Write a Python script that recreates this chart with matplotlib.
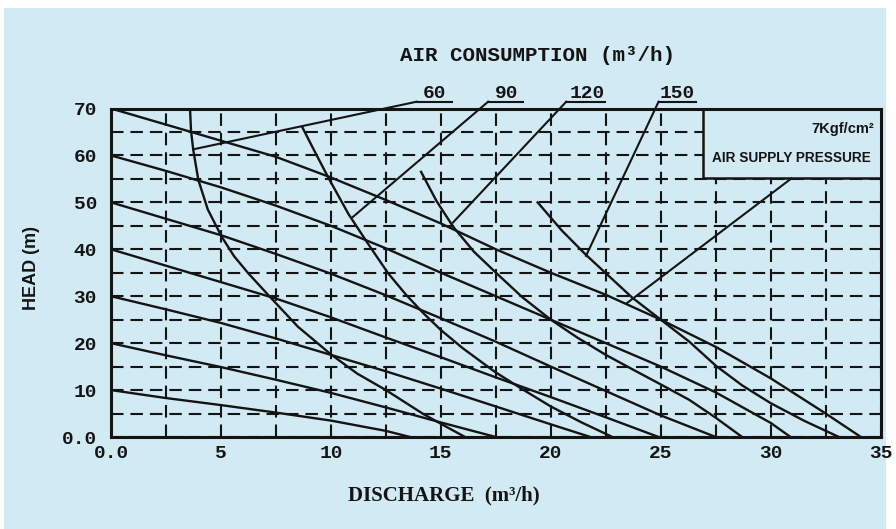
import matplotlib
matplotlib.use("Agg")
import matplotlib.pyplot as plt
from matplotlib.patches import Rectangle

# ---------------- data ----------------
x_ticks = [0, 5, 10, 15, 20, 25, 30, 35]
x_tick_labels = ["0.0", "5", "10", "15", "20", "25", "30", "35"]
y_ticks = [0, 10, 20, 30, 40, 50, 60, 70]
y_tick_labels = ["0.0", "10", "20", "30", "40", "50", "60", "70"]

# head curves (air supply pressure lines), labelled by shut-off head
head10_x = [0, 2.5, 5, 7.5, 10, 12.5, 13.6]
head10_y = [10, 8.3, 6.8, 5.2, 3.5, 1.3, 0]
head20_x = [0, 2.5, 5, 7.5, 10, 12.5, 15, 17.5]
head20_y = [20, 17.4, 14.9, 12.2, 9.4, 6.3, 3.1, 0]
head30_x = [0, 2.5, 5, 7.5, 10, 12.5, 15, 17.5, 20, 21.8]
head30_y = [30, 27.2, 24.3, 21.0, 17.5, 14.0, 10.3, 6.5, 2.7, 0]
head40_x = [0, 2.5, 5, 7.5, 10, 12.5, 15, 17.5, 20, 22.5, 24.9]
head40_y = [40, 36.5, 33.0, 29.5, 25.5, 21.2, 17.0, 12.7, 8.5, 4.2, 0]
head50_x = [0, 2.5, 5, 7.5, 10, 12.5, 15, 17.5, 20, 22.5, 25, 27.5]
head50_y = [50, 46.5, 43.0, 39.0, 34.8, 30.2, 25.3, 20.3, 15.0, 9.8, 4.6, 0]
head60_x = [0, 2.5, 5, 7.5, 10, 12.5, 15, 17.5, 20, 22.5, 25, 27.5, 30, 30.9]
head60_y = [60, 56.7, 53.2, 49.3, 45.0, 40.2, 35.0, 30.0, 25.0, 20.0, 15.0, 9.5, 3.0, 0]
head70_x = [0, 3.5, 7.5, 10, 12.5, 15, 17.5, 20, 22.5, 25, 27.5, 30, 32.5, 34.1]
head70_y = [70, 65.2, 59.7, 55.3, 50.5, 45.5, 40.0, 35.0, 30.3, 25.0, 19.2, 12.5, 5.0, 0]

# air consumption curves (m3/h)
air60_x = [3.6, 3.64, 3.74, 3.97, 4.4, 5.03, 5.6, 6.24, 7.2, 8.5, 10, 11.2, 12.5, 14.2, 15.2, 16.1]
air60_y = [69.3, 65.2, 61.2, 54.8, 48.5, 42.7, 38.5, 34.9, 30.0, 23.5, 17.6, 13.5, 10.0, 4.9, 2.3, 0]
air90_x = [8.7, 9.3, 9.88, 10.8, 11.77, 12.6, 13.4, 14.2, 15.0, 16.0, 17.45, 18.7, 20.0, 21.4, 22.8]
air90_y = [66.0, 60.5, 55.3, 47.5, 40.6, 34.9, 30.4, 26.4, 22.8, 18.9, 13.9, 10.2, 6.5, 3.1, 0]
air120_x = [14.1, 14.8, 15.56, 16.5, 17.53, 18.7, 20.0, 21.2, 22.5, 23.8, 25.0, 26.3, 27.5, 28.7]
air120_y = [56.5, 50.3, 44.8, 39.5, 34.9, 29.8, 25.0, 21.2, 17.5, 14.2, 11.2, 7.9, 4.1, 0]
air150_x = [19.4, 20.5, 21.6, 22.5, 23.7, 25.0, 26.3, 27.5, 28.7, 30.0, 31.5, 33.1]
air150_y = [50.0, 44.0, 38.8, 34.9, 29.7, 25.0, 20.3, 15.2, 11.0, 7.2, 3.5, 0]

air_labels = ["60", "90", "120", "150"]
label_x = [14.73, 17.99, 21.66, 25.75]
underline_x0 = [13.9, 17.15, 20.7, 24.9]
underline_x1 = [15.5, 18.75, 22.45, 26.6]
leader_end_x = [3.74, 11.0, 15.55, 21.6]
leader_end_y = [61.3, 46.9, 45.7, 38.6]

# ---------------- style ----------------
bg = "#d1eaf3"
ink = "#141414"
mono = ["Liberation Mono", "DejaVu Sans Mono"]
serif = ["Liberation Serif", "DejaVu Serif"]
narrow = ["Liberation Sans", "DejaVu Sans"]
plt.rcParams["lines.scale_dashes"] = False

fig = plt.figure(figsize=(8.96, 5.29), dpi=100)
fig.patch.set_facecolor("white")
fig.add_artist(Rectangle((4 / 896, 0), 882 / 896, 521 / 529,
                         transform=fig.transFigure, facecolor=bg,
                         edgecolor="none", zorder=-10))

ax = fig.add_axes([111 / 896, 92 / 529, 769.7 / 896, 328.5 / 529])
ax.set_facecolor(bg)
ax.set_xlim(0, 35)
ax.set_ylim(0, 70)

ax.set_xticks(x_ticks)
ax.set_xticklabels(x_tick_labels)
ax.set_yticks(y_ticks)
ax.set_yticklabels(y_tick_labels)
ax.set_xticks([2.5 + 5 * i for i in range(7)], minor=True)
ax.set_yticks([5 + 10 * i for i in range(7)], minor=True)
ax.tick_params(which="both", length=0)
ax.tick_params(axis="x", pad=6)
ax.tick_params(axis="y", pad=10)
for lab in ax.get_xticklabels() + ax.get_yticklabels():
    lab.set_fontfamily(mono)
    lab.set_fontweight("bold")
    lab.set_fontsize(14)
    lab.set_color(ink)

ax.set_axisbelow(True)
ax.grid(which="both", color=ink, linewidth=1.5, linestyle=(0, (9, 5)))

for sp in ax.spines.values():
    sp.set_linewidth(2.2)
    sp.set_color(ink)
    sp.set_zorder(5)

# pressure legend box
ax.add_patch(Rectangle((26.9, 55.1), 35 - 26.9, 70 - 55.1, facecolor=bg,
                       edgecolor=ink, linewidth=1.8, zorder=2))
ax.text(34.7, 65.7, "7Kgf/cm²", ha="right", va="center", fontsize=10.5,
        fontweight="bold", family=narrow, color=ink, zorder=6)
ax.text(30.95, 59.4, "AIR SUPPLY PRESSURE", ha="center", va="center",
        fontsize=9.8, fontweight="bold", family=narrow, color=ink, zorder=6)
ax.plot([30.94, 23.45], [55.1, 28.5], color=ink, linewidth=1.5, zorder=3)

lw = 1.7
for xs, ys in [(head10_x, head10_y), (head20_x, head20_y), (head30_x, head30_y),
               (head40_x, head40_y), (head50_x, head50_y), (head60_x, head60_y),
               (head70_x, head70_y)]:
    ax.plot(xs, ys, color=ink, linewidth=lw, zorder=3, solid_joinstyle="round")
for xs, ys in [(air60_x, air60_y), (air90_x, air90_y), (air120_x, air120_y),
               (air150_x, air150_y)]:
    ax.plot(xs, ys, color=ink, linewidth=lw, zorder=3, solid_joinstyle="round")

# air consumption labels with underline and leader
for lab, lx, u0, u1, ex, ey in zip(air_labels, label_x, underline_x0,
                                   underline_x1, leader_end_x, leader_end_y):
    ax.text(lx, 73.3, lab, ha="center", va="center", fontsize=14,
            fontweight="bold", family=mono, color=ink, clip_on=False)
    ax.plot([u0, u1], [71.45, 71.45], color=ink, linewidth=1.5, clip_on=False)
    ax.plot([u0, ex], [71.45, ey], color=ink, linewidth=1.5, clip_on=False,
            zorder=3)

fig.text(537 / 896, 1 - 55 / 529, "AIR CONSUMPTION (m³/h)", ha="center",
         va="center", fontsize=15, fontweight="bold", family=mono, color=ink)
fig.text(444 / 896, 1 - 495 / 529, "DISCHARGE  (m³/h)", ha="center",
         va="center", fontsize=15, fontweight="bold", family=serif, color=ink)
fig.text(32 / 896, 1 - 268 / 529, "HEAD (m)", ha="center", va="center",
         rotation=90, fontsize=13, fontweight="bold", family=narrow, color=ink)

fig.savefig("out.png", dpi=100, facecolor=fig.get_facecolor())
